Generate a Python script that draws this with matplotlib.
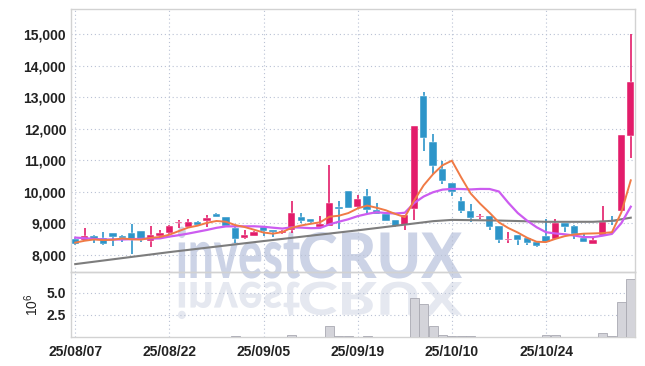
import numpy as np
import matplotlib
matplotlib.use('Agg')
import matplotlib.pyplot as plt
from matplotlib.textpath import TextPath
from matplotlib.patches import PathPatch
from matplotlib.font_manager import FontProperties
from matplotlib.transforms import Affine2D, IdentityTransform
from matplotlib.ticker import FuncFormatter

# daily candles, 25/08/07 .. 25/11/06 (60 trading days)
opens = [8510, 8480, 8600, 8530, 8700, 8600, 8700, 8760, 8450, 8600,
         8680, 9010, 8900, 9050, 9060, 9310, 9200, 8850, 8530, 8600,
         8900, 8790, 8680, 8790, 9200, 9130, 8890, 8930, 9530, 10020,
         9520, 9870, 9430, 9310, 9110, 8960, 9440, 13020, 11580, 10730,
         10290, 9710, 9400, 9200, 9230, 8910, 8470, 8630, 8550, 8410,
         8600, 8520, 9000, 8910, 8530, 8350, 8630, 9060, 9380, 11780]
highs = [8550, 8860, 8620, 8730, 8700, 8620, 8980, 8760, 8920, 8800,
         8960, 9110, 9130, 9080, 9270, 9340, 9200, 8870, 8800, 8770,
         8910, 8790, 8800, 9700, 9330, 9130, 9240, 10860, 9700, 10020,
         9900, 10080, 9650, 9310, 9110, 9270, 12070, 13160, 11830, 10960,
         10290, 9850, 9600, 9300, 9230, 8910, 8730, 8630, 8550, 8410,
         9130, 9130, 9000, 8940, 8660, 8600, 9550, 9240, 11800, 15000]
lows = [8330, 8460, 8390, 8320, 8290, 8400, 8030, 8420, 8260, 8580,
        8660, 8850, 8890, 8930, 8870, 9200, 8900, 8370, 8520, 8590,
        8600, 8580, 8650, 8690, 9020, 8990, 8880, 8930, 8820, 9500,
        9500, 9330, 9300, 9060, 8870, 8790, 9110, 11300, 10560, 10250,
        9860, 9330, 9050, 9150, 8800, 8390, 8390, 8330, 8300, 8250,
        8420, 8490, 8740, 8500, 8400, 8350, 8630, 8950, 9380, 11080]
closes = [8350, 8600, 8520, 8360, 8580, 8550, 8470, 8470, 8640, 8710,
          8920, 9040, 9030, 8940, 9160, 9210, 8920, 8500, 8630, 8730,
          8770, 8740, 8760, 9320, 9080, 9030, 8980, 9650, 9470, 9500,
          9770, 9430, 9310, 9060, 8920, 9270, 12070, 11700, 10830, 10330,
          10000, 9390, 9180, 9220, 8900, 8470, 8490, 8470, 8390, 8270,
          8420, 9000, 8900, 8650, 8400, 8460, 9050, 9040, 11790, 13480]
# volume, millions of shares
volume = [0.03, 0.03, 0.02, 0.03, 0.02, 0.03, 0.04, 0.03, 0.03, 0.02,
          0.03, 0.02, 0.03, 0.02, 0.03, 0.03, 0.03, 0.08, 0.03, 0.02,
          0.03, 0.02, 0.03, 0.25, 0.04, 0.03, 0.04, 1.25, 0.06, 0.06,
          0.05, 0.06, 0.03, 0.03, 0.03, 0.04, 4.4, 3.7, 1.25, 0.25,
          0.15, 0.15, 0.06, 0.05, 0.05, 0.05, 0.05, 0.05, 0.03, 0.03,
          0.25, 0.18, 0.04, 0.04, 0.04, 0.04, 0.4, 0.06, 4.0, 6.5]

# moving averages as drawn
ma5 = [8390, 8450, 8490, 8470, 8482, 8522, 8496, 8486, 8542, 8568,
       8642, 8756, 8868, 8928, 9018, 9076, 9052, 8946, 8884, 8798,
       8710, 8674, 8726, 8864, 8934, 8986, 9034, 9212, 9242, 9326,
       9474, 9564, 9496, 9414, 9298, 9198, 9726, 10204, 10558, 10840,
       10986, 10450, 9946, 9624, 9338, 9032, 8852, 8710, 8544, 8418,
       8408, 8510, 8596, 8648, 8674, 8682, 8692, 8720, 9348, 10364]
ma10 = [8550, 8530, 8510, 8490, 8490, 8490, 8500, 8510, 8520, 8525,
        8582, 8626, 8677, 8735, 8793, 8859, 8904, 8907, 8906, 8908,
        8893, 8863, 8836, 8874, 8866, 8848, 8854, 8969, 9053, 9130,
        9230, 9299, 9354, 9328, 9312, 9336, 9645, 9850, 9986, 10069,
        10092, 10088, 10075, 10091, 10089, 10009, 9651, 9328, 9084, 8878,
        8720, 8681, 8653, 8615, 8565, 8564, 8610, 8667, 9007, 9528]
ma60_idx = [0, 10, 20, 30, 35, 38, 40, 45, 50, 55, 57, 59]
ma60 = [7710, 8090, 8440, 8780, 8960, 9070, 9110, 9090, 9050, 9050, 9080, 9180]

tick_idx = [0, 10, 20, 30, 40, 50]
tick_labels = ['25/08/07', '25/08/22', '25/09/05', '25/09/19', '25/10/10', '25/10/24']

RED = '#e31c6a'
BLUE = '#2d95c9'
plt.rcParams['font.family'] = ['Liberation Sans', 'DejaVu Sans']
plt.rcParams['font.weight'] = 'bold'
plt.rcParams['mathtext.default'] = 'regular'

W, H = 645, 366
fig = plt.figure(figsize=(W / 100, H / 100), dpi=100)
fig.patch.set_facecolor('white')
ax = fig.add_axes([71 / W, 1 - 272 / H, 564 / W, 263 / H])
axv = fig.add_axes([71 / W, 1 - 337 / H, 564 / W, 65 / H], sharex=ax)
for a in (ax, axv):
    a.set_facecolor('none')
    for s in a.spines.values():
        s.set_color('#d2d2d2')
        s.set_linewidth(1.0)
    a.grid(True, ls=(0, (1, 2.5)), color='#b9c1d4', lw=0.8)
    a.set_axisbelow(True)
    a.tick_params(length=0, labelsize=10, colors='#222222')

# watermark "investCRUX" with reflection
wm_font = FontProperties(family=['Lato', 'Roboto', 'Liberation Sans'], weight='black')
p1 = TextPath((0, 0), 'invest', size=100, prop=wm_font)
p2 = TextPath((0, 0), 'CRUX', size=100, prop=wm_font)
e1, e2 = p1.get_extents(), p2.get_extents()
sy = 46 / e2.y1
for path, ext, x0, x1, k in [(p1, e1, 178, 300, 1.1), (p2, e2, 300, 462, 1.0)]:
    sx = (x1 - x0) / ext.width
    t_main = Affine2D().translate(-ext.x0, 0).scale(sx, sy * k).translate(x0, H - 278)
    t_refl = Affine2D().translate(-ext.x0, 0).scale(sx, -sy * k * 0.72).translate(x0, H - 282)
    fig.patches.append(PathPatch(t_main.transform_path(path), transform=IdentityTransform(),
                                 facecolor='#ccd3e6', edgecolor='none', zorder=-1))
    fig.patches.append(PathPatch(t_refl.transform_path(path), transform=IdentityTransform(),
                                 facecolor='#e5e8f0', edgecolor='none', zorder=-1))

x = np.arange(len(closes))
o = np.array(opens)
c = np.array(closes)
up = c >= o
cols = [RED if u else BLUE for u in up]
body_bot = np.minimum(o, c)
body_h = np.maximum(np.abs(c - o), 30)

ax.vlines(x, lows, highs, colors=cols, lw=1.2, zorder=3)
ax.bar(x, body_h, bottom=body_bot, width=0.78, color=cols, edgecolor='white',
       linewidth=0.3, zorder=4)

ax.plot(ma60_idx, ma60, color='#7d7d7d', lw=1.5, zorder=5)
ax.plot(x, ma10, color='#cc5cf0', lw=1.6, zorder=5)
ax.plot(x, ma5, color='#f07a45', lw=1.4, zorder=6)

ax.set_xlim(-0.45, 59.45)
ax.set_ylim(7460, 15790)
ax.set_yticks(range(8000, 15001, 1000))
ax.yaxis.set_major_formatter(FuncFormatter(lambda v, p: f'{v:,.0f}'))
ax.set_xticks(tick_idx)
ax.tick_params(axis='x', labelbottom=False)

axv.bar(x, volume, width=0.95, color='#d4d4da', edgecolor='#a9a9b2', linewidth=0.6, zorder=3)
axv.set_ylim(0, 7.33)
axv.set_yticks([2.5, 5.0])
axv.set_yticklabels(['2.5', '5.0'])
axv.set_xticks(tick_idx)
axv.set_xticklabels(tick_labels)
axv.tick_params(axis='x', pad=6)
axv.set_ylabel(r'$10^6$', fontsize=10, fontweight='normal', color='#222222', labelpad=4)

fig.savefig('out.png', dpi=100)
